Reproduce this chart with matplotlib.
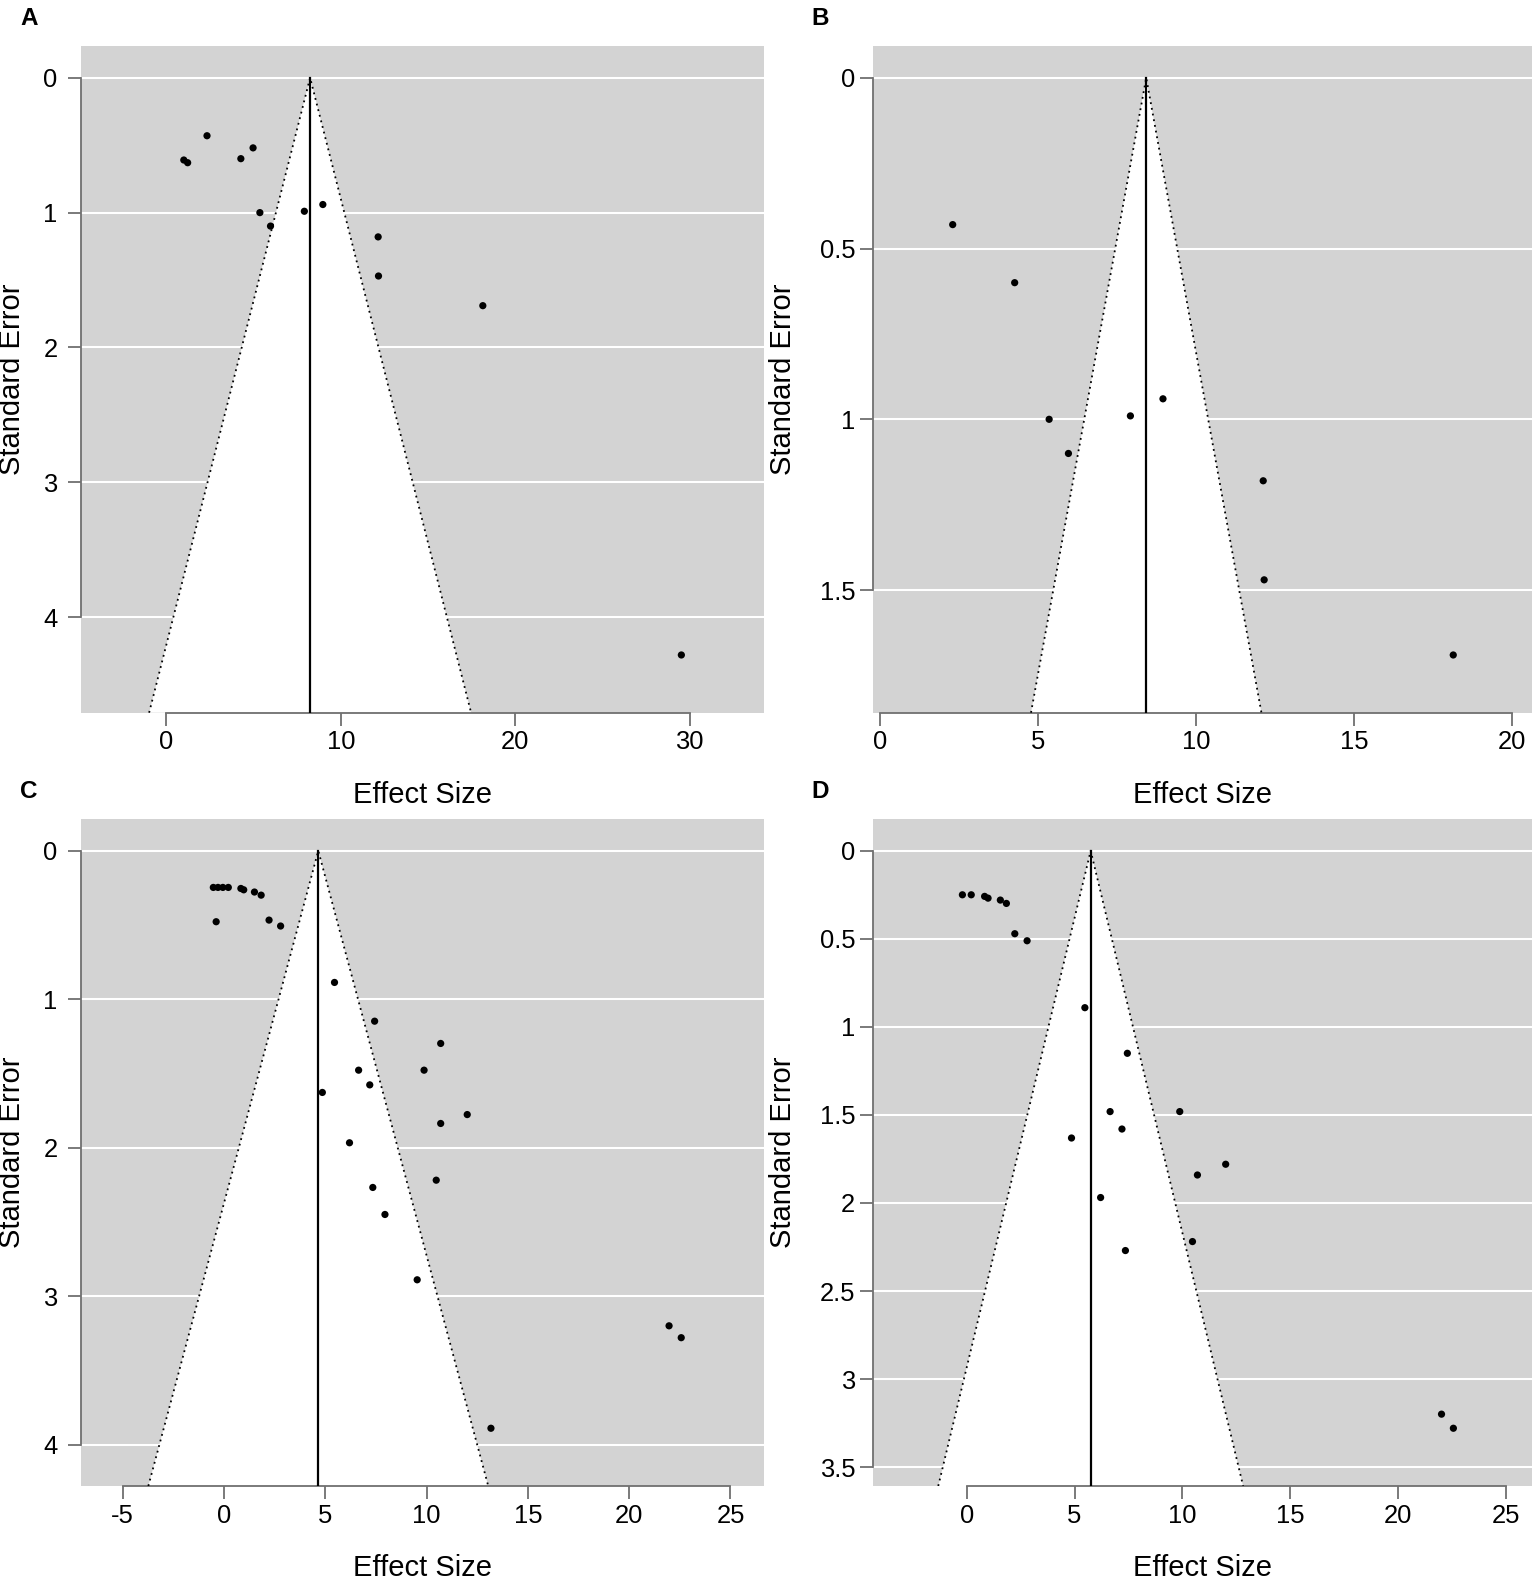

# Funnel plots (effect size vs. standard error) for four meta-analyses,
# laid out 2x2 and labelled A-D.

import matplotlib
matplotlib.use('Agg')
import matplotlib.pyplot as plt

plt.rcParams['font.family'] = ['Liberation Sans', 'DejaVu Sans']
plt.rcParams['axes.unicode_minus'] = False

# Panel A
a_es = [1.00, 1.22, 2.33, 4.27, 4.97, 5.36, 5.97, 7.91, 8.97, 12.14, 12.16, 18.14, 29.52]
a_se = [0.61, 0.63, 0.43, 0.60, 0.52, 1.00, 1.10, 0.99, 0.94, 1.18, 1.47, 1.69, 4.28]
a_est = 8.24
a_xticks = [0, 10, 20, 30]
a_yticks = [0, 1, 2, 3, 4]

# Panel B
b_es = [2.30, 4.26, 5.35, 5.96, 7.92, 8.95, 12.12, 12.15, 18.13]
b_se = [0.43, 0.60, 1.00, 1.10, 0.99, 0.94, 1.18, 1.47, 1.69]
b_est = 8.42
b_xticks = [0, 5, 10, 15, 20]
b_yticks = [0, 0.5, 1, 1.5]

# Panel C
c_es = [-0.52, -0.29, -0.05, 0.22, 0.84, 0.98, 1.51, 1.84, -0.38, 2.23, 2.80,
        5.46, 7.44, 10.70, 6.65, 9.88, 7.20, 4.86, 12.01, 10.70, 6.20, 10.48,
        7.35, 7.95, 9.54, 21.97, 22.57, 13.18]
c_se = [0.247, 0.247, 0.247, 0.247, 0.254, 0.263, 0.278, 0.299, 0.478, 0.467, 0.507,
        0.887, 1.148, 1.298, 1.478, 1.478, 1.577, 1.628, 1.777, 1.837, 1.967, 2.219,
        2.268, 2.45, 2.89, 3.20, 3.28, 3.89]
c_est = 4.66
c_xticks = [-5, 0, 5, 10, 15, 20, 25]
c_yticks = [0, 1, 2, 3, 4]

# Panel D
d_es = [-0.20, 0.21, 0.83, 0.99, 1.56, 1.84, 2.23, 2.80, 5.48, 7.45, 6.65, 9.88,
        7.20, 4.86, 12.01, 10.70, 6.21, 10.47, 7.36, 22.02, 22.57]
d_se = [0.25, 0.25, 0.259, 0.269, 0.280, 0.299, 0.471, 0.511, 0.891, 1.150, 1.481,
        1.481, 1.58, 1.631, 1.780, 1.841, 1.969, 2.219, 2.270, 3.199, 3.279]
d_est = 5.75
d_xticks = [0, 5, 10, 15, 20, 25]
d_yticks = [0, 0.5, 1, 1.5, 2, 2.5, 3, 3.5]

W, H = 1535, 1579
GRAY = '#d3d3d3'
AXCOL = '#707070'


def add_axes_px(fig, left, right, top, bottom):
    return fig.add_axes([left / W, 1 - bottom / H, (right - left) / W, (bottom - top) / H])


def funnel(ax, es, se, est, xlim, xticks, yticks, ylab_x, ylab_pad):
    ymax = max(se) * 1.10
    ax.set_facecolor(GRAY)
    ax.set_xlim(xlim)
    ax.set_ylim(ymax, -0.05 * ymax)

    # white grid lines at the y ticks
    for t in yticks:
        ax.axhline(t, color='white', lw=1.5, zorder=1)

    # 95% pseudo confidence region
    xs = [est - 1.96 * ymax, est, est + 1.96 * ymax]
    ys = [ymax, 0, ymax]
    ax.fill(xs, ys, color='white', lw=0, zorder=2)
    ax.plot(xs, ys, color='black', ls=(0, (1, 2.2)), lw=1.3, zorder=3)
    ax.plot([est, est], [0, ymax], color='black', lw=1.6, zorder=4)

    ax.scatter(es, se, s=27, c='black', edgecolors='none', zorder=5)

    ax.spines['top'].set_visible(False)
    ax.spines['right'].set_visible(False)
    for s in ['left', 'bottom']:
        ax.spines[s].set_color(AXCOL)
        ax.spines[s].set_linewidth(1.3)
    ax.spines['left'].set_bounds(yticks[0], yticks[-1])
    ax.spines['bottom'].set_bounds(xticks[0], xticks[-1])

    ax.set_xticks(xticks)
    ax.set_xticklabels(['%g' % t for t in xticks])
    ax.set_yticks(yticks)
    ax.set_yticklabels(['%g' % t for t in yticks])
    ax.tick_params(axis='x', direction='out', length=9.2, width=1.3, color=AXCOL,
                   labelsize=18.4, pad=3.5)
    ax.tick_params(axis='y', direction='out', length=9.2, width=1.3, color=AXCOL,
                   labelsize=18.4, pad=ylab_pad)

    ax.text(ylab_x, 0.5, 'Standard Error', transform=ax.transAxes, rotation=90,
            ha='center', va='center', fontsize=21)


def main():
    fig = plt.figure(figsize=(W / 100, H / 100), dpi=100)

    panels = [
        ('A', a_es, a_se, a_est, (-4.87, 34.24), a_xticks, a_yticks, (81.4, 763.7, 46, 712.7), 12, 8),
        ('B', b_es, b_se, b_est, (-0.23, 20.63), b_xticks, b_yticks, (872.7, 1532.3, 46, 712.7), 783, 3.5),
        ('C', c_es, c_se, c_est, (-7.03, 26.64), c_xticks, c_yticks, (81.4, 763.7, 819, 1486), 12, 8),
        ('D', d_es, d_se, d_est, (-4.36, 26.23), d_xticks, d_yticks, (872.7, 1532.3, 819, 1486), 783, 3.5),
    ]

    for letter, es, se, est, xlim, xt, yt, box, ylab_px, pad in panels:
        left, right, top, bottom = box
        ax = add_axes_px(fig, left, right, top, bottom)
        ylab_x = (ylab_px - left) / (right - left)
        funnel(ax, es, se, est, xlim, xt, yt, ylab_x, pad)

        # x label and panel letter, placed in figure pixels
        fig.text((left + right) / 2 / W, 1 - (bottom + 90) / H, 'Effect Size',
                 ha='center', va='baseline', fontsize=21)
        fig.text((left - 52.6) / W, 1 - (top - 21) / H, letter,
                 ha='center', va='baseline', fontsize=17.5, fontweight='bold')

    fig.savefig('out.png', dpi=100, facecolor='white')


if __name__ == "__main__":
    main()
